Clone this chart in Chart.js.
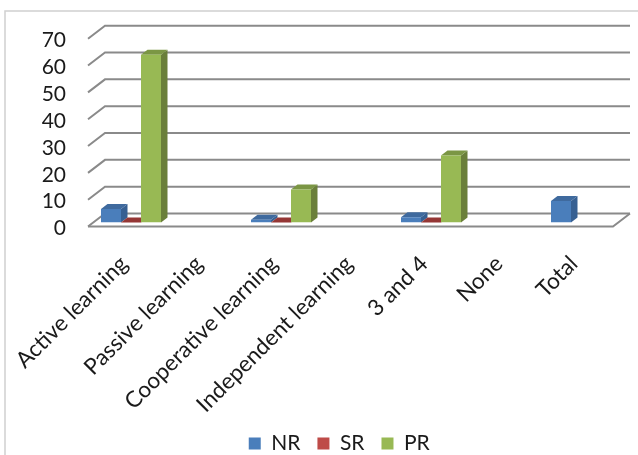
<!DOCTYPE html>
<html>
<head>
<meta charset="utf-8">
<title>Learning styles</title>
<script src="https://cdn.jsdelivr.net/npm/chart.js@4/dist/chart.umd.min.js"></script>
<style>
  html, body { margin: 0; background: #fff; }
  canvas { display: block; }
</style>
</head>
<body>
<canvas id="myChart" width="638" height="455"></canvas>
<script>
const categories = ['Active learning', 'Passive learning', 'Cooperative learning', 'Independent learning', '3 and 4', 'None', 'Total'];
const nr = [5, null, 1, null, 2, null, 8];
const sr = [0, null, 0, null, 0, null, null];
const pr = [62.5, null, 12.3, null, 25, null, null];

const fronts = ['#4a7ebb', '#be4b48', '#98b954'];
const sides = ['#376092', '#8c3836', '#6a7f3a'];
const tops = ['#3f6a9e', '#953735', '#7b9644'];

// fake 3d: offsets of the bar depth and of the walls around the bars
const barDx = 6.5, barDy = -5;
const wallDx = 11.5, wallDy = -9;
const floorDx = -5.5, floorDy = 4;
const legendShift = 30;

const depth3d = {
  id: 'depth3d',
  afterLayout(chart) {
    chart.legend.left += legendShift;
    chart.legend.right += legendShift;
  },
  beforeDraw(chart) {
    const c = chart.ctx;
    c.save();
    c.strokeStyle = '#d0d0d0';
    c.lineWidth = 1.5;
    c.strokeRect(5, 11, 700, 600);
    c.restore();
  },
  beforeDatasetsDraw(chart) {
    const c = chart.ctx;
    const y = chart.scales.y, a = chart.chartArea;
    c.save();
    c.strokeStyle = '#8a8a8a';
    c.lineWidth = 2;
    y.ticks.forEach(t => {
      const py = y.getPixelForValue(t.value);
      c.beginPath();
      c.moveTo(a.left + floorDx, py + floorDy);
      c.lineTo(a.left + wallDx, py + wallDy);
      c.lineTo(a.right + wallDx, py + wallDy);
      c.stroke();
    });
    const p0 = y.getPixelForValue(0);
    c.beginPath();
    c.moveTo(a.left + floorDx, p0 + floorDy);
    c.lineTo(a.right + floorDx, p0 + floorDy);
    c.lineTo(a.right + wallDx, p0 + wallDy);
    c.stroke();
    // top and side faces of the bars, fronts come on top from the library
    chart.data.datasets.forEach((ds, i) => {
      chart.getDatasetMeta(i).data.forEach((bar, j) => {
        if (ds.data[j] === null) return;
        const l = bar.x - bar.width / 2, r = bar.x + bar.width / 2;
        c.fillStyle = sides[i];
        c.beginPath();
        c.moveTo(r, bar.y);
        c.lineTo(r + barDx, bar.y + barDy);
        c.lineTo(r + barDx, bar.base + barDy);
        c.lineTo(r, bar.base);
        c.fill();
        c.fillStyle = tops[i];
        c.beginPath();
        c.moveTo(l, bar.y);
        c.lineTo(l + barDx, bar.y + barDy);
        c.lineTo(r + barDx, bar.y + barDy);
        c.lineTo(r, bar.y);
        c.fill();
      });
    });
    c.restore();
  }
};

new Chart(document.querySelector('#myChart'), {
  type: 'bar',
  data: {
    labels: categories,
    datasets: [
      { label: 'NR', data: nr, backgroundColor: fronts[0] },
      { label: 'SR', data: sr, backgroundColor: fronts[1] },
      { label: 'PR', data: pr, backgroundColor: fronts[2] }
    ]
  },
  options: {
    responsive: false,
    animation: false,
    categoryPercentage: 0.8,
    barPercentage: 1,
    layout: { padding: { top: 34.7, right: 19.5, left: 0, bottom: -9 } },
    plugins: {
      tooltip: { enabled: false },
      legend: {
        position: 'bottom',
        labels: {
          boxWidth: 12,
          boxHeight: 12,
          padding: 17,
          color: '#1a1a1a',
          font: { family: 'Lato', size: 21 }
        }
      }
    },
    scales: {
      x: {
        grid: { display: false },
        border: { display: false },
        afterFit: s => {
          s.height = 193.5;
          s.paddingLeft = 0;
          s.paddingRight = 0;
        },
        ticks: {
          minRotation: 45,
          maxRotation: 45,
          padding: 20,
          labelOffset: -7,
          autoSkip: false,
          color: '#1a1a1a',
          font: { family: 'Lato', size: 22.5 }
        }
      },
      y: {
        min: 0,
        max: 70,
        grid: { display: false, drawTicks: false },
        border: { display: false },
        afterFit: s => {
          s.width = 93.5;
          s.paddingTop = 0;
          s.paddingBottom = 0;
        },
        ticks: {
          stepSize: 10,
          autoSkip: false,
          padding: 27.5,
          labelOffset: 6,
          color: '#1a1a1a',
          font: { family: 'Lato', size: 21 }
        }
      }
    }
  },
  plugins: [depth3d]
});
</script>
</body>
</html>
